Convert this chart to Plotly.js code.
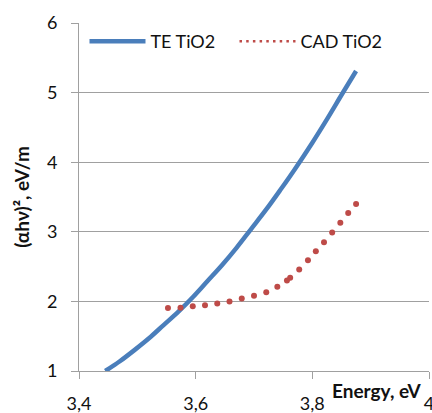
<!DOCTYPE html>
<html><head><meta charset="utf-8">
<script src="https://cdn.plot.ly/plotly-3.0.1.min.js"></script>
<style>html,body{margin:0;padding:0;background:#fff;}</style>
</head><body>
<div id="chart" style="width:432px;height:413px;"></div>
<script>
const teEnergy = [3.445, 3.47, 3.495, 3.52, 3.545, 3.57, 3.595, 3.62, 3.645, 3.67, 3.695, 3.72, 3.745, 3.77, 3.80, 3.826, 3.851, 3.875];
const teValue  = [1.00, 1.14, 1.30, 1.47, 1.66, 1.85, 2.06, 2.29, 2.52, 2.77, 3.04, 3.31, 3.60, 3.90, 4.28, 4.63, 4.98, 5.31];
const cadEnergy = [3.5525, 3.574, 3.595, 3.616, 3.637, 3.658, 3.679, 3.700, 3.721, 3.740, 3.7565, 3.762, 3.7775, 3.7925, 3.806, 3.820, 3.834, 3.848, 3.8615, 3.875];
const cadValue  = [1.905, 1.91, 1.93, 1.945, 1.97, 2.00, 2.04, 2.08, 2.13, 2.21, 2.30, 2.34, 2.46, 2.59, 2.72, 2.85, 2.99, 3.13, 3.27, 3.40];
const xTicks = [3.4, 3.6, 3.8, 4.0];
const yTicks = [1, 2, 3, 4, 5, 6];
const seriesNames = ['TE TiO2', 'CAD TiO2'];
const xTitle = 'Energy, eV';
const yTitle = '(αhν)², eV/m';

const FONT = 'Lato, "Open Sans", sans-serif';
const blue = '#4a7ebb';
const red = '#be4b48';

const traces = [
  {x: teEnergy, y: teValue, name: seriesNames[0], type: 'scatter', mode: 'lines',
   line: {color: blue, width: 4.5, shape: 'spline'}},
  {x: cadEnergy, y: cadValue, name: seriesNames[1], type: 'scatter', mode: 'markers',
   marker: {color: red, size: 6}, showlegend: false},
  {x: [null], y: [null], name: seriesNames[1], type: 'scatter', mode: 'lines',
   line: {color: red, width: 2.5, dash: '2.5px,4.2px'}}
];

const layout = {
  width: 432, height: 413,
  margin: {l: 78.7, r: 3, t: 22.7, b: 42.3},
  paper_bgcolor: '#fff', plot_bgcolor: '#fff',
  separators: ', ',
  font: {family: FONT, size: 18, color: '#111'},
  showlegend: true,
  legend: {orientation: 'h', x: 0.0157, y: 1.0, xanchor: 'left', yanchor: 'top',
           bgcolor: 'rgba(255,255,255,0)', font: {family: FONT, size: 18, color: '#111'},
           itemwidth: 56, entrywidth: 79, entrywidthmode: 'pixels', tracegroupgap: 0},
  xaxis: {range: [3.4, 4.0], tickvals: xTicks, ticks: 'outside', ticklen: 7, tickcolor: '#a0a0a0',
          showline: true, linecolor: '#a0a0a0', linewidth: 1, showgrid: false, zeroline: false,
          ticklabelstandoff: 9, ticklabeloverflow: 'allow',
          tickfont: {family: FONT, size: 18, color: '#111'}},
  yaxis: {range: [1, 6], tickvals: yTicks, ticks: 'outside', ticklen: 7, tickcolor: '#a0a0a0',
          showline: true, linecolor: '#a0a0a0', linewidth: 1, showgrid: true, gridcolor: '#a0a0a0',
          gridwidth: 1, zeroline: false, ticklabelstandoff: 10,
          tickfont: {family: FONT, size: 18, color: '#111'},
          title: {text: '<b>' + yTitle + '</b>', font: {family: FONT, size: 19, color: '#111'}, standoff: 12}},
  annotations: [
    {text: '<b>' + xTitle + '</b>', xref: 'paper', yref: 'paper', x: 1.0, y: 0, xanchor: 'right', yanchor: 'top',
     xshift: -5, yshift: -6, showarrow: false, font: {family: FONT, size: 19, color: '#111'}}
  ]
};

Plotly.newPlot('chart', traces, layout, {displayModeBar: false, staticPlot: true});
</script>
</body></html>
